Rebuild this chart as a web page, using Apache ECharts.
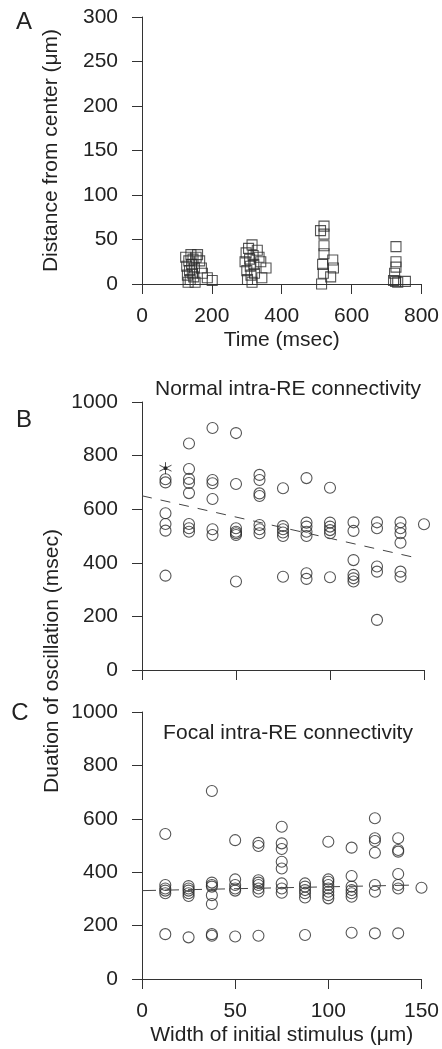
<!DOCTYPE html>
<html>
<head>
<meta charset="utf-8">
<title>Oscillation duration vs stimulus width</title>
<script src="https://cdn.jsdelivr.net/npm/echarts@6/dist/echarts.min.js"></script>
<style>
  * { margin: 0; padding: 0; }
  html, body { width: 442px; height: 1049px; background: #fff; }
  #chart { width: 442px; height: 1049px; }
</style>
</head>
<body>
<div id="chart"></div>
<script>
// panel A: spread of activity over time (squares)
var timeA = [125, 128, 130, 132, 134, 136, 138, 140, 142, 144, 146, 148, 150, 152, 155, 159, 165, 170, 173, 187, 201,
  295, 298, 300, 302, 305, 308, 310, 312, 315, 318, 320, 322, 315, 330, 335, 340, 355, 343,
  511, 521, 521, 521, 521, 517, 519, 546, 548, 540, 514,
  727, 727, 727, 723, 720, 726, 732, 754];
var distA = [30, 20, 10, 2, 26, 15, 5, 33, 22, 12, 28, 8, 18, 2, 30, 33, 26, 18, 12, 7, 4,
  25, 35, 15, 5, 40, 28, 20, 10, 2, 32, 22, 12, 44, 38, 30, 25, 18, 7,
  60, 65, 56, 43, 34, 22, 12, 27, 18, 8, 0,
  42, 25, 19, 12, 4, 3, 2, 3];

// panels B and C: stimulus widths and the durations measured at each width
var widths = [12.5, 25, 37.5, 50, 62.5, 75, 87.5, 100, 112.5, 125, 137.5, 150];
var normalDur = [
  [712, 700, 585, 545, 520, 352],
  [845, 750, 713, 698, 660, 545, 529, 516],
  [903, 709, 697, 638, 525, 504],
  [884, 694, 529, 516, 510, 504, 330],
  [728, 709, 659, 649, 541, 525, 510],
  [678, 537, 525, 513, 500, 348],
  [716, 550, 535, 516, 500, 361, 340],
  [680, 550, 535, 522, 510, 346],
  [551, 519, 410, 355, 342, 330],
  [551, 529, 386, 367, 187],
  [551, 529, 510, 475, 367, 348],
  [544]
];
var focalDur = [
  [543, 352, 339, 331, 321, 168],
  [348, 339, 331, 321, 311, 156],
  [704, 361, 352, 346, 314, 281, 168, 162],
  [520, 373, 352, 339, 331, 159],
  [510, 498, 370, 361, 352, 339, 327, 162],
  [570, 508, 487, 439, 414, 358, 339, 323],
  [358, 346, 333, 321, 305, 165],
  [514, 373, 364, 352, 339, 327, 314, 302],
  [492, 386, 346, 333, 321, 308, 173],
  [602, 527, 517, 473, 352, 327, 171],
  [527, 483, 477, 393, 352, 339, 171],
  [342]
];
// asterisk point in B
var starB = [12.5, 753];
// dashed trend lines
var fitBX = [0, 145], fitBY = [650, 420];
var fitCX = [0, 147], fitCY = [331, 352];

var font = 'Liberation Sans, Arial, sans-serif';
var ink = '#222';

function pairs(xs, ys) {
  return xs.map(function (x, i) { return [x, ys[i]]; });
}
function columns(xs, cols) {
  var out = [];
  cols.forEach(function (vals, i) {
    vals.forEach(function (v) { out.push([xs[i], v]); });
  });
  return out;
}

function axis(o) {
  var base = {
    type: 'value',
    axisLine: { show: true, onZero: false, lineStyle: { color: '#333', width: 1 } },
    axisTick: { show: true, inside: false, length: 10, lineStyle: { color: '#333', width: 1 } },
    axisLabel: { show: true, color: ink, fontSize: 21, fontFamily: font,
      formatter: function (v) { return String(v); } },
    splitLine: { show: false },
    nameTextStyle: { color: ink, fontSize: 21, fontFamily: font }
  };
  for (var k in o) {
    if (typeof o[k] === 'object' && base[k] && !Array.isArray(o[k])) {
      base[k] = Object.assign({}, base[k], o[k]);
    } else {
      base[k] = o[k];
    }
  }
  return base;
}

var circle = {
  type: 'scatter',
  symbol: 'circle',
  symbolSize: 11,
  itemStyle: { color: 'rgba(0,0,0,0)', borderColor: '#2a2a2a', borderWidth: 1.1 },
  silent: true
};

var chart = echarts.init(document.getElementById('chart'));
chart.setOption({
  backgroundColor: '#fff',
  animation: false,
  title: [
    { text: 'Normal intra-RE connectivity', left: 283, top: 374, textAlign: 'center',
      textStyle: { color: ink, fontSize: 21, fontWeight: 'normal', fontFamily: font } },
    { text: 'Focal intra-RE connectivity', left: 283, top: 718, textAlign: 'center',
      textStyle: { color: ink, fontSize: 21, fontWeight: 'normal', fontFamily: font } }
  ],
  graphic: [
    { type: 'text', x: 24, y: 22, style: { text: 'A', fill: ink, font: '24px ' + font, textAlign: 'center', textVerticalAlign: 'middle', verticalAlign: 'middle' } },
    { type: 'text', x: 24, y: 420, style: { text: 'B', fill: ink, font: '24px ' + font, textAlign: 'center', textVerticalAlign: 'middle', verticalAlign: 'middle' } },
    { type: 'text', x: 20, y: 713, style: { text: 'C', fill: ink, font: '24px ' + font, textAlign: 'center', textVerticalAlign: 'middle', verticalAlign: 'middle' } },
    { type: 'text', x: 52, y: 661, rotation: Math.PI / 2,
      style: { text: 'Duation of oscillation (msec)', fill: ink, font: '21px ' + font, textAlign: 'center', textVerticalAlign: 'middle', verticalAlign: 'middle' } }
  ],
  grid: [
    { left: 142, right: 18, top: 17, height: 267 },
    { left: 142, right: 18, top: 402, height: 268 },
    { left: 142, right: 18, top: 712, height: 267 }
  ],
  xAxis: [
    axis({ gridIndex: 0, min: 0, max: 800, interval: 200, name: 'Time (msec)', nameLocation: 'middle', nameGap: 46,
      axisLabel: { margin: 22 } }),
    axis({ gridIndex: 1, min: 0, max: 150, interval: 50, axisLabel: { show: false } }),
    axis({ gridIndex: 2, min: 0, max: 150, interval: 50, name: 'Width of initial stimulus (\u03bcm)', nameLocation: 'middle', nameGap: 46,
      axisLabel: { margin: 22 } })
  ],
  yAxis: [
    axis({ gridIndex: 0, min: 0, max: 300, interval: 50, name: 'Distance from center (\u03bcm)', nameLocation: 'middle', nameGap: 80,
      axisLabel: { margin: 24 } }),
    axis({ gridIndex: 1, min: 0, max: 1000, interval: 200, axisLabel: { margin: 24 } }),
    axis({ gridIndex: 2, min: 0, max: 1000, interval: 200, axisLabel: { margin: 24 } })
  ],
  series: [
    {
      type: 'scatter', xAxisIndex: 0, yAxisIndex: 0, symbol: 'rect', symbolSize: 10,
      itemStyle: { color: 'rgba(0,0,0,0)', borderColor: '#2a2a2a', borderWidth: 1.1 },
      data: pairs(timeA, distA)
    },
    Object.assign({}, circle, { xAxisIndex: 1, yAxisIndex: 1, data: columns(widths, normalDur) }),
    {
      type: 'scatter', xAxisIndex: 1, yAxisIndex: 1, symbolSize: 12,
      symbol: 'path://M12,0V24M1.6,6L22.4,18M1.6,18L22.4,6M9.5,9.5H14.5V14.5H9.5Z',
      itemStyle: { color: '#222', borderColor: '#222', borderWidth: 1 },
      data: [starB]
    },
    {
      type: 'line', xAxisIndex: 1, yAxisIndex: 1, symbol: 'none', silent: true,
      lineStyle: { color: '#444', width: 1, type: [10, 9] },
      data: pairs(fitBX, fitBY)
    },
    Object.assign({}, circle, { xAxisIndex: 2, yAxisIndex: 2, data: columns(widths, focalDur) }),
    {
      type: 'line', xAxisIndex: 2, yAxisIndex: 2, symbol: 'none', silent: true,
      lineStyle: { color: '#444', width: 1, type: [14, 9] },
      data: pairs(fitCX, fitCY)
    }
  ]
});
</script>
</body>
</html>
